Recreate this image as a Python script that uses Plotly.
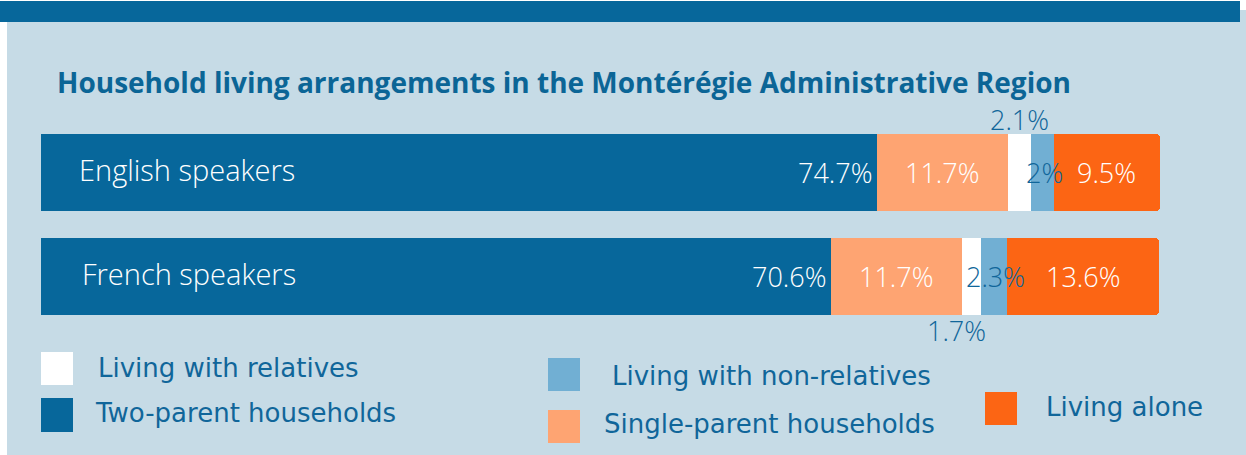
import plotly.graph_objects as go

categories = ["English speakers", "French speakers"]
series_names = ["Two-parent households", "Single-parent households",
                "Living with relatives", "Living with non-relatives", "Living alone"]
two_parent = [74.7, 70.6]
single_parent = [11.7, 11.7]
with_relatives = [2.1, 1.7]
with_non_relatives = [2.0, 2.3]
living_alone = [9.5, 13.6]
label_two_parent = ["74.7%", "70.6%"]
label_single_parent = ["11.7%", "11.7%"]
label_relatives = ["2.1%", "1.7%"]
label_non_relatives = ["2%", "2.3%"]
label_alone = ["9.5%", "13.6%"]

W, H = 1246, 455
DARK = "#07679b"
PEACH = "#fea472"
WHITE = "#ffffff"
LBLUE = "#71afd3"
ORANGE = "#fc6514"
PANEL = "#c6dbe6"
TXT = "#10669a"
FONT = "Open Sans"

def px(x):
    return x / W

def py(y):
    return 1 - y / H

series = [
    (series_names[0], two_parent, DARK),
    (series_names[1], single_parent, PEACH),
    (series_names[2], with_relatives, WHITE),
    (series_names[3], with_non_relatives, LBLUE),
    (series_names[4], living_alone, ORANGE),
]

fig = go.Figure()
for name, vals, col in series:
    fig.add_trace(go.Bar(
        y=categories, x=vals, name=name, orientation="h",
        marker=dict(color=col, line=dict(width=0)),
        width=0.74, hoverinfo="skip", showlegend=False,
    ))

annotations = []
label_font = dict(family=FONT, size=27, color="white", weight=300)
blue_font = dict(family=FONT, size=27, color=TXT, weight=300)
for i, cat in enumerate(categories):
    c0 = two_parent[i]
    c1 = c0 + single_parent[i]
    c2 = c1 + with_relatives[i]
    c3 = c2 + with_non_relatives[i]
    c4 = c3 + living_alone[i]
    # category label inside the bar
    annotations.append(dict(x=0, y=cat, xref="x", yref="y", text=cat,
                            xanchor="left", yanchor="middle", showarrow=False,
                            xshift=36 + 3 * i, yshift=3,
                            font=dict(family=FONT, size=29, color="white", weight=300)))
    annotations.append(dict(x=c0, y=cat, xref="x", yref="y", text=label_two_parent[i],
                            xanchor="right", yanchor="middle", showarrow=False,
                            xshift=-3, yshift=0, font=label_font))
    annotations.append(dict(x=(c0 + c1) / 2, y=cat, xref="x", yref="y", text=label_single_parent[i],
                            xanchor="center", yanchor="middle", showarrow=False, font=label_font))
    annotations.append(dict(x=(c1 + c2) / 2, y=cat, xref="x", yref="y", text=label_relatives[i],
                            xanchor="center", yanchor="middle", showarrow=False,
                            yshift=53 if i == 0 else -54, xshift=0 if i == 0 else -15,
                            font=blue_font))
    annotations.append(dict(x=(c2 + c3) / 2, y=cat, xref="x", yref="y", text=label_non_relatives[i],
                            xanchor="center", yanchor="middle", showarrow=False,
                            xshift=2, font=blue_font))
    annotations.append(dict(x=(c3 + c4) / 2, y=cat, xref="x", yref="y", text=label_alone[i],
                            xanchor="center", yanchor="middle", showarrow=False, font=label_font))

# title
annotations.append(dict(x=px(55), y=py(82), xref="paper", yref="paper",
                        text="<b>Household living arrangements in the Montérégie Administrative Region</b>",
                        xanchor="left", yanchor="middle", showarrow=False,
                        font=dict(family=FONT, size=28, color="#0b6596")))

# legend (custom layout)
legend_items = [
    (series_names[2], WHITE, (41, 352, 73, 385), (96, 368)),
    (series_names[0], DARK, (41, 398, 73, 432), (93, 413)),
    (series_names[3], LBLUE, (548, 358, 580, 391), (610, 376)),
    (series_names[1], PEACH, (548, 410, 580, 443), (602, 424)),
    (series_names[4], ORANGE, (985, 392, 1017, 425), (1044, 407)),
]
shapes = [
    dict(type="rect", xref="paper", yref="paper", x0=px(7), x1=1, y0=0, y1=py(10),
         fillcolor=PANEL, line=dict(width=0), layer="below"),
    dict(type="rect", xref="paper", yref="paper", x0=0, x1=px(1240), y0=py(22), y1=py(1),
         fillcolor=DARK, line=dict(width=0), layer="below"),
]
for name, col, (x0, y0, x1, y1), (tx, ty) in legend_items:
    shapes.append(dict(type="rect", xref="paper", yref="paper", x0=px(x0), x1=px(x1),
                       y0=py(y1), y1=py(y0), fillcolor=col, line=dict(width=0)))
    annotations.append(dict(x=px(tx), y=py(ty), xref="paper", yref="paper", text=name,
                            xanchor="left", yanchor="middle", showarrow=False,
                            font=dict(family="DejaVu Sans", size=26, color=TXT)))

fig.update_layout(
    width=W, height=H,
    margin=dict(l=0, r=0, t=0, b=0),
    paper_bgcolor="white", plot_bgcolor="rgba(0,0,0,0)",
    barmode="stack", barcornerradius=4,
    xaxis=dict(range=[0, 100], domain=[px(41), px(1160)], visible=False, fixedrange=True),
    yaxis=dict(type="category", categoryarray=categories, range=[1.5, -0.5],
               domain=[py(328.5), py(120.5)], visible=False, fixedrange=True),
    shapes=shapes, annotations=annotations, showlegend=False,
)

fig.write_html("out.html", config={"displayModeBar": False},
               post_script="document.body.style.margin='0';")
